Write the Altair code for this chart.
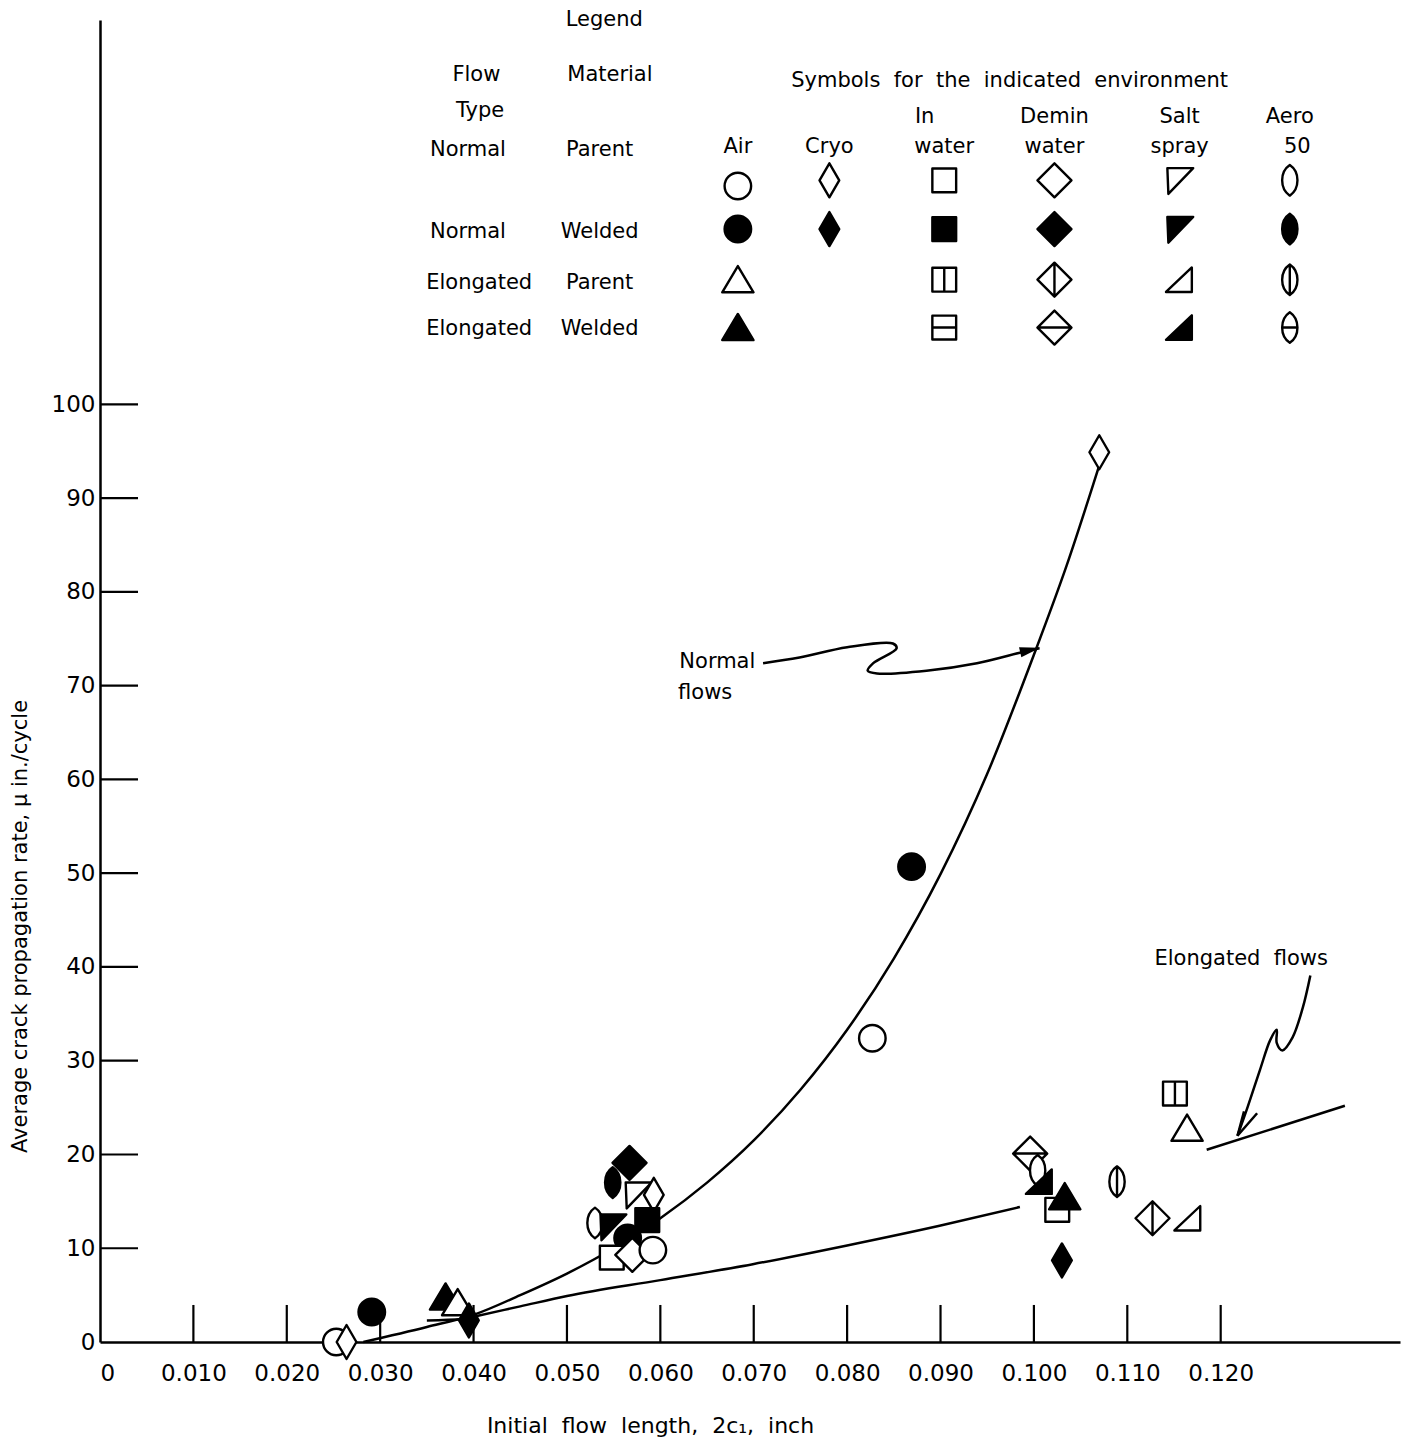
import altair as alt
import pandas as pd

# ---------------- data ----------------
pt_x = [0.0253, 0.0264, 0.0291, 0.0370, 0.0383, 0.0395,
        0.0549, 0.0567, 0.0576, 0.0593, 0.0530, 0.0549, 0.0586, 0.0565,
        0.0548, 0.0570, 0.0592,
        0.0827, 0.0869, 0.1070,
        0.0996, 0.1004, 0.1006, 0.1025, 0.1033, 0.1030,
        0.1089, 0.1127, 0.1165, 0.1164, 0.1151]
pt_y = [0.0, 0.0, 3.2, 4.8, 4.2, 2.3,
        17.0, 19.1, 15.7, 15.7, 12.7, 12.3, 13.0, 11.1,
        9.0, 9.3, 9.8,
        32.4, 50.7, 94.9,
        20.1, 18.3, 17.1, 14.1, 15.5, 8.7,
        17.1, 13.2, 13.2, 22.8, 26.5]
pt_env = ["Air", "Cryo", "Air", "Air", "Air", "Cryo",
          "Aero", "Demin", "Salt", "Cryo", "Aero", "Salt", "Water", "Air",
          "Water", "Demin", "Air",
          "Air", "Air", "Cryo",
          "Demin", "Aero", "Salt", "Water", "Air", "Cryo",
          "Aero", "Demin", "Salt", "Air", "Water"]
pt_flaw = ["Normal", "Normal", "Normal", "Elongated", "Elongated", "Normal",
           "Normal", "Normal", "Normal", "Normal", "Normal", "Normal", "Normal", "Normal",
           "Normal", "Normal", "Normal",
           "Normal", "Normal", "Normal",
           "Elongated", "Normal", "Elongated", "Normal", "Elongated", "Normal",
           "Elongated", "Elongated", "Elongated", "Elongated", "Elongated"]
pt_mat = ["Parent", "Parent", "Welded", "Welded", "Parent", "Welded",
          "Welded", "Welded", "Parent", "Parent", "Parent", "Welded", "Welded", "Welded",
          "Parent", "Parent", "Parent",
          "Parent", "Welded", "Parent",
          "Welded", "Parent", "Welded", "Parent", "Welded", "Welded",
          "Parent", "Parent", "Parent", "Parent", "Parent"]

# fitted curves
normal_x = [0.0282, 0.0350, 0.0400, 0.0450, 0.0500, 0.0550, 0.0600, 0.0650, 0.0700,
            0.0750, 0.0800, 0.0850, 0.0900, 0.0950, 0.1000, 0.1035, 0.1070]
normal_y = [0.0, 1.6, 2.9, 5.0, 7.3, 10.0, 13.2, 17.0, 21.5,
            26.9, 33.3, 40.9, 49.9, 60.6, 73.3, 82.8, 93.5]
elong_x = [0.0350, 0.0389, 0.0400, 0.0450, 0.0500, 0.0600, 0.0699, 0.0800, 0.0899, 0.0985]
elong_y = [2.3, 2.45, 2.7, 3.8, 4.9, 6.6, 8.3, 10.3, 12.4, 14.4]
elong2_x = [0.1185, 0.1333]
elong2_y = [20.5, 25.2]

# annotation arrows
arrow_n_x = [0.0710, 0.0749, 0.0800, 0.0849, 0.0853, 0.0828, 0.0822, 0.0832, 0.0885,
             0.0939, 0.0988, 0.1006]
arrow_n_y = [72.4, 73.0, 74.1, 74.5, 74.0, 72.4, 71.6, 71.3, 71.6, 72.4, 73.6, 74.0]
arrow_e_x = [0.1296, 0.1288, 0.1277, 0.1266, 0.1260, 0.1260, 0.1253, 0.1242, 0.1229, 0.1218]
arrow_e_y = [39.1, 35.7, 32.5, 31.1, 31.9, 33.3, 32.2, 29.0, 25.1, 22.0]
arrow_e_head_x = [0.1225, 0.1218, 0.1239]
arrow_e_head_y = [24.6, 22.0, 24.4]

# axes
x_ticks = [0.0, 0.010, 0.020, 0.030, 0.040, 0.050, 0.060, 0.070, 0.080, 0.090, 0.100, 0.110, 0.120]
y_ticks = [0, 10, 20, 30, 40, 50, 60, 70, 80, 90, 100]

# legend content
env_keys = ["Air", "Cryo", "Water", "Demin", "Salt", "Aero"]
env_head1 = ["", "", "In", "Demin", "Salt", "Aero"]
env_head2 = ["Air", "Cryo", "water", "water", "spray", "50"]
legend_flaw = ["Normal", "Normal", "Elongated", "Elongated"]
legend_mat = ["Parent", "Welded", "Parent", "Welded"]

# ---------------- styles / layout ----------------
FONT = "DejaVu Sans"
SP = "\u00a0\u00a0"  # wide word gaps of the lettering
CIRCLE = "M-0.78,0A0.78,0.78 0 1,1 0.78,0A0.78,0.78 0 1,1 -0.78,0Z"
TRI = "M0,-0.8L0.92,0.74L-0.92,0.74Z"
CRYO = "M0,-1L0.58,0L0,1L-0.58,0Z"
SQ = "M-0.7,-0.7L0.7,-0.7L0.7,0.7L-0.7,0.7Z"
DEM = "M0,-1L1,0L0,1L-1,0Z"
SALT_N = "M-0.72,-0.72L0.8,-0.72L-0.66,0.8Z"
SALT_E = "M0.72,-0.72L0.72,0.72L-0.8,0.72Z"
AERO = "M0,-0.9C0.6,-0.5 0.6,0.5 0,0.9C-0.6,0.5 -0.6,-0.5 0,-0.9Z"


def shape_for(env, flaw, mat):
    if flaw == "Normal":
        return {"Air": CIRCLE, "Cryo": CRYO, "Water": SQ, "Demin": DEM,
                "Salt": SALT_N, "Aero": AERO}[env]
    if env == "Air":
        return TRI
    if env == "Cryo":
        return CRYO
    if env == "Salt":
        return SALT_E
    vert = mat == "Parent"
    if env == "Water":
        return SQ + ("M0,-0.7L0,0.7" if vert else "M-0.7,0L0.7,0")
    if env == "Demin":
        return DEM + ("M0,-1L0,1" if vert else "M-1,0L1,0")
    return AERO + ("M0,-0.9L0,0.9" if vert else "M-0.46,0L0.46,0")


def fill_for(env, flaw, mat):
    if mat != "Welded":
        return "white"
    if flaw == "Elongated" and env in ("Water", "Demin", "Aero"):
        return "white"
    return "black"


xs = alt.Scale(domain=[0, 0.1392], nice=False, zero=False)
ys = alt.Scale(domain=[0, 141], nice=False, zero=False)

x_axis = alt.Axis(values=x_ticks,
                  labelExpr="datum.value == 0 ? '0' : format(datum.value, '.3f')",
                  ticks=False, tickSize=0, grid=False, domainColor="black", domainWidth=2.5,
                  labelFont=FONT, labelFontSize=23, labelColor="black", labelPadding=20,
                  title=SP.join(["Initial", "flow", "length,", "2c\u2081,", "inch"]),
                  titleFont=FONT, titleFontSize=22,
                  titleFontWeight="normal", titleColor="black", titleX=550, titleY=83,
                  titleAlign="center", titleBaseline="middle")
y_axis = alt.Axis(values=y_ticks, ticks=False, tickSize=0, grid=False,
                  domainColor="black", domainWidth=2.5,
                  labelFont=FONT, labelFontSize=23, labelColor="black", labelPadding=5,
                  title="Average crack propagation rate, \u03bc in./cycle", titleFont=FONT,
                  titleFontSize=21, titleFontWeight="normal", titleColor="black",
                  titleX=-80, titleY=906, titleAngle=270, titleAlign="center",
                  titleBaseline="middle")


def X(field):
    return alt.X(field, type="quantitative", scale=xs, axis=x_axis)


def Y(field):
    return alt.Y(field, type="quantitative", scale=ys, axis=y_axis)


# ---------------- tables ----------------
pts = pd.DataFrame({"x": pt_x, "y": pt_y, "env": pt_env, "flaw": pt_flaw, "mat": pt_mat})
pts["shape"] = [shape_for(e, f, m) for e, f, m in zip(pt_env, pt_flaw, pt_mat)]
pts["fill"] = [fill_for(e, f, m) for e, f, m in zip(pt_env, pt_flaw, pt_mat)]
pts["order"] = range(len(pts))

lines = []
for name, xv, yv in [("normal", normal_x, normal_y), ("elong", elong_x, elong_y),
                     ("elong2", elong2_x, elong2_y)]:
    for i, (a, b) in enumerate(zip(xv, yv)):
        lines.append({"x": a, "y": b, "id": name, "o": i})
lines = pd.DataFrame(lines)

arrows = []
for name, xv, yv in [("an", arrow_n_x, arrow_n_y), ("ae", arrow_e_x, arrow_e_y)]:
    for i, (a, b) in enumerate(zip(xv, yv)):
        arrows.append({"x": a, "y": b, "id": name, "o": i})
arrows = pd.DataFrame(arrows)
heads = pd.DataFrame({"x": arrow_e_head_x, "y": arrow_e_head_y, "o": range(3)})

# legend layout (data-space positions of the legend grid)
LEG_COL_X = [0.0683, 0.0781, 0.0904, 0.1022, 0.1156, 0.1274]
LEG_ROW_Y = [123.9, 118.7, 113.3, 108.2]
LEG_ROW_TXT_Y = [127.1, 118.4, 113.0, 108.0]
FLAW_TXT_X = {"Normal": 0.0394, "Elongated": 0.0406}
leg_sym = []
for r, (fl, mt) in enumerate(zip(legend_flaw, legend_mat)):
    for c, env in enumerate(env_keys):
        if fl == "Elongated" and env == "Cryo":
            continue
        leg_sym.append({"x": LEG_COL_X[c], "y": LEG_ROW_Y[r] - (0.6 if (r == 0 and env == "Air") else 0),
                        "shape": shape_for(env, fl, mt), "fill": fill_for(env, fl, mt)})
leg_sym = pd.DataFrame(leg_sym)

texts = [("Legend", 0.0540, 141.0), ("Flow", 0.0403, 135.1), ("Type", 0.0407, 131.3),
         ("Material", 0.0546, 135.1),
         (SP.join(["Symbols", "for", "the", "indicated", "environment"]), 0.0974, 134.5)]
for c in range(6):
    if env_head1[c]:
        texts.append((env_head1[c], LEG_COL_X[c] - (0.0021 if env_head1[c] == "In" else 0), 130.7))
    texts.append((env_head2[c], LEG_COL_X[c] + (0.0008 if env_head2[c] == "50" else 0), 127.5))
for r in range(4):
    texts.append((legend_flaw[r], FLAW_TXT_X[legend_flaw[r]], LEG_ROW_TXT_Y[r]))
    texts.append((legend_mat[r], 0.0535, LEG_ROW_TXT_Y[r]))
texts += [("Normal", 0.0661, 72.5), ("flows", 0.0648, 69.2),
          (SP.join(["Elongated", "flows"]), 0.1222, 40.9)]
texts = pd.DataFrame(texts, columns=["t", "x", "y"])

xtick_df = pd.DataFrame({"x": x_ticks[1:]})
ytick_df = pd.DataFrame({"y": y_ticks[1:]})

# ---------------- layers ----------------
base_rule_x = alt.Chart(xtick_df).mark_rule(color="black", strokeWidth=2.2).encode(
    x=X("x"), y=alt.datum(0, scale=ys), y2=alt.datum(3.95))
base_rule_y = alt.Chart(ytick_df).mark_rule(color="black", strokeWidth=2.2).encode(
    y=Y("y"), x=alt.datum(0, scale=xs), x2=alt.datum(0.00407))

curve = alt.Chart(lines).mark_line(color="black", strokeWidth=2.5, interpolate="monotone").encode(
    x=X("x"), y=Y("y"), detail="id:N", order="o:Q")
arrow_lines = alt.Chart(arrows).mark_line(color="black", strokeWidth=2.5,
                                          interpolate="catmull-rom").encode(
    x=X("x"), y=Y("y"), detail="id:N", order="o:Q")
arrow_head_e = alt.Chart(heads).mark_line(color="black", strokeWidth=2.5).encode(
    x=X("x"), y=Y("y"), order="o:Q")
arrow_head_n = alt.Chart(pd.DataFrame({"x": [0.0996], "y": [73.8]})).mark_point(
    shape="M1,0L-1,-0.5L-1,0.5Z", filled=True, color="black", size=420, angle=347,
    opacity=1).encode(x=X("x"), y=Y("y"))

symbols = alt.Chart(pts).mark_point(filled=True, stroke="black", strokeWidth=2.4,
                                    strokeJoin="round", size=1156, opacity=1).encode(
    x=X("x"), y=Y("y"), shape=alt.Shape("shape:N", scale=None, legend=None),
    fill=alt.Fill("fill:N", scale=None, legend=None), order="order:Q")

leg_symbols = alt.Chart(leg_sym).mark_point(filled=True, stroke="black", strokeWidth=2.4,
                                            strokeJoin="round", size=1156, opacity=1).encode(
    x=X("x"), y=Y("y"), shape=alt.Shape("shape:N", scale=None, legend=None),
    fill=alt.Fill("fill:N", scale=None, legend=None))

labels = alt.Chart(texts).mark_text(font=FONT, fontSize=21, color="black", align="center",
                                    baseline="middle").encode(
    x=X("x"), y=Y("y"), text="t:N")

chart = alt.layer(base_rule_x, base_rule_y, curve, arrow_lines, arrow_head_e, arrow_head_n,
                  symbols, leg_symbols, labels).properties(
    width=1300, height=1322,
    autosize=alt.AutoSizeParams(type="none"),
    padding={"left": 92, "top": 12, "right": 3, "bottom": 95},
    background="white",
).configure_view(stroke=None)

chart.save("out.html", embed_options={"renderer": "svg", "actions": False})
